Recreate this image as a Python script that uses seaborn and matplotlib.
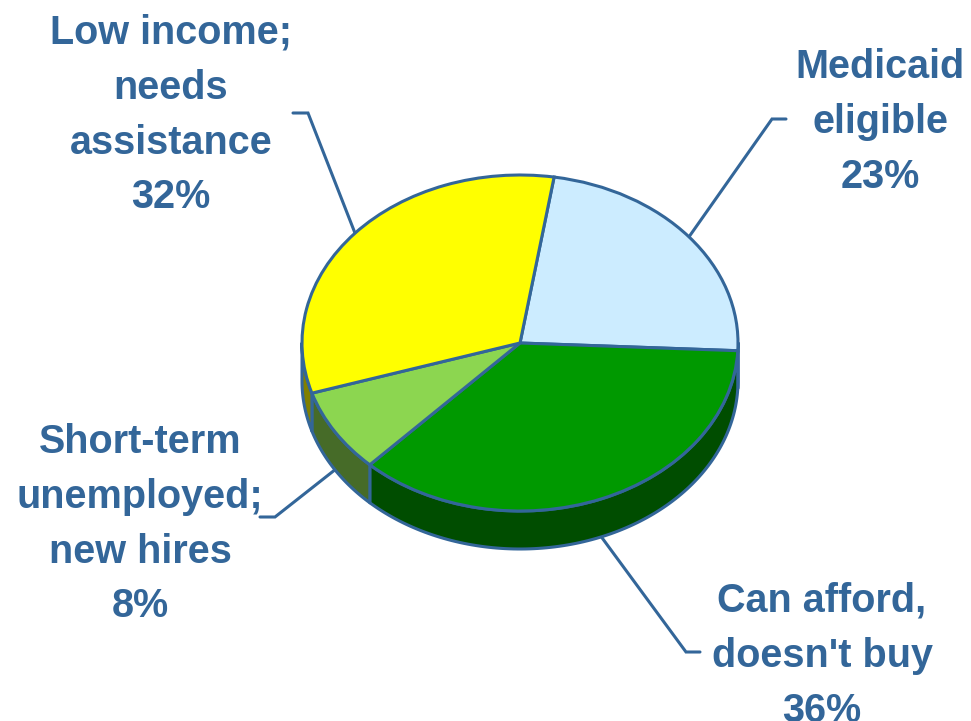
import numpy as np
import matplotlib
matplotlib.use("Agg")
import matplotlib.pyplot as plt
from matplotlib.transforms import Affine2D
import seaborn as sns

# ---- data ----
categories = ["Medicaid\neligible", "Can afford,\ndoesn't buy",
              "Short-term\nunemployed;\nnew hires", "Low income;\nneeds\nassistance"]
values = [23, 36, 8, 32]
pct_labels = ["23%", "36%", "8%", "32%"]
top_colors = ["#CCECFF", "#009900", "#8CD650", "#FFFF00"]

# ---- style ----
sns.set_theme(style="white")
plt.rcParams['font.family'] = ['Liberation Sans', 'DejaVu Sans']
EDGE = "#336699"
TEXT = "#336699"

W, H = 971, 721
fig = plt.figure(figsize=(W / 100, H / 100), dpi=100)
ax = fig.add_axes([0, 0, 1, 1])

cx, cy = 520, 343        # pixel centre of pie top
a, b = 218, 168          # ellipse semi-axes
depth = 38               # thickness of the 3-D side

trans = Affine2D().scale(a, -b).translate(cx, cy) + ax.transData
wedges, _ = ax.pie(values, startangle=81, counterclock=False, colors=top_colors,
                   wedgeprops=dict(edgecolor=EDGE, linewidth=2.2))
for w in wedges:
    w.set_transform(trans)
    w.set_zorder(3)

ax.set_xlim(0, W)
ax.set_ylim(H, 0)
ax.set_aspect('auto')
ax.axis('off')


def ell(t, dy=0.0):
    t = np.radians(t)
    return cx + a * np.cos(t), cy - b * np.sin(t) + dy


# side walls
for w, col in zip(wedges, top_colors):
    rgb = np.array(matplotlib.colors.to_rgb(col)) * 0.5
    for k in (-1, 0, 1):
        lo = max(w.theta1 + 360 * k, 180)
        hi = min(w.theta2 + 360 * k, 360)
        if hi > lo:
            t = np.linspace(lo, hi, 120)
            xt, yt = ell(t)
            xb, yb = ell(t[::-1], depth)
            ax.fill(np.r_[xt, xb], np.r_[yt, yb], facecolor=rgb,
                    edgecolor=EDGE, linewidth=2.2, zorder=2, joinstyle='round')

# labels and leader lines
label_pos = [  # (text centre x, text top y, elbow, end)
    (880, 48, (772, 119), (786, 119)),
    (822, 582, (686, 652), (700, 652)),
    (140, 423, (275, 517), (260, 517)),
    (171, 14, (308, 113), (293, 113)),
]
for w, cat, pct, (tx, ty, elb, end) in zip(wedges, categories, pct_labels, label_pos):
    mid = (w.theta1 + w.theta2) / 2
    s = np.sin(np.radians(mid))
    ax_, ay_ = ell(mid, depth if s < 0 else 0)
    ax.plot([ax_, elb[0], end[0]], [ay_, elb[1], end[1]], color=EDGE, lw=2.2,
            zorder=1, solid_joinstyle='miter')
    ax.text(tx, ty, cat + "\n" + pct, ha='center', va='top', color=TEXT,
            fontsize=28.5, fontweight='bold', linespacing=1.56,
            multialignment='center')

fig.savefig("out.png", dpi=100)
